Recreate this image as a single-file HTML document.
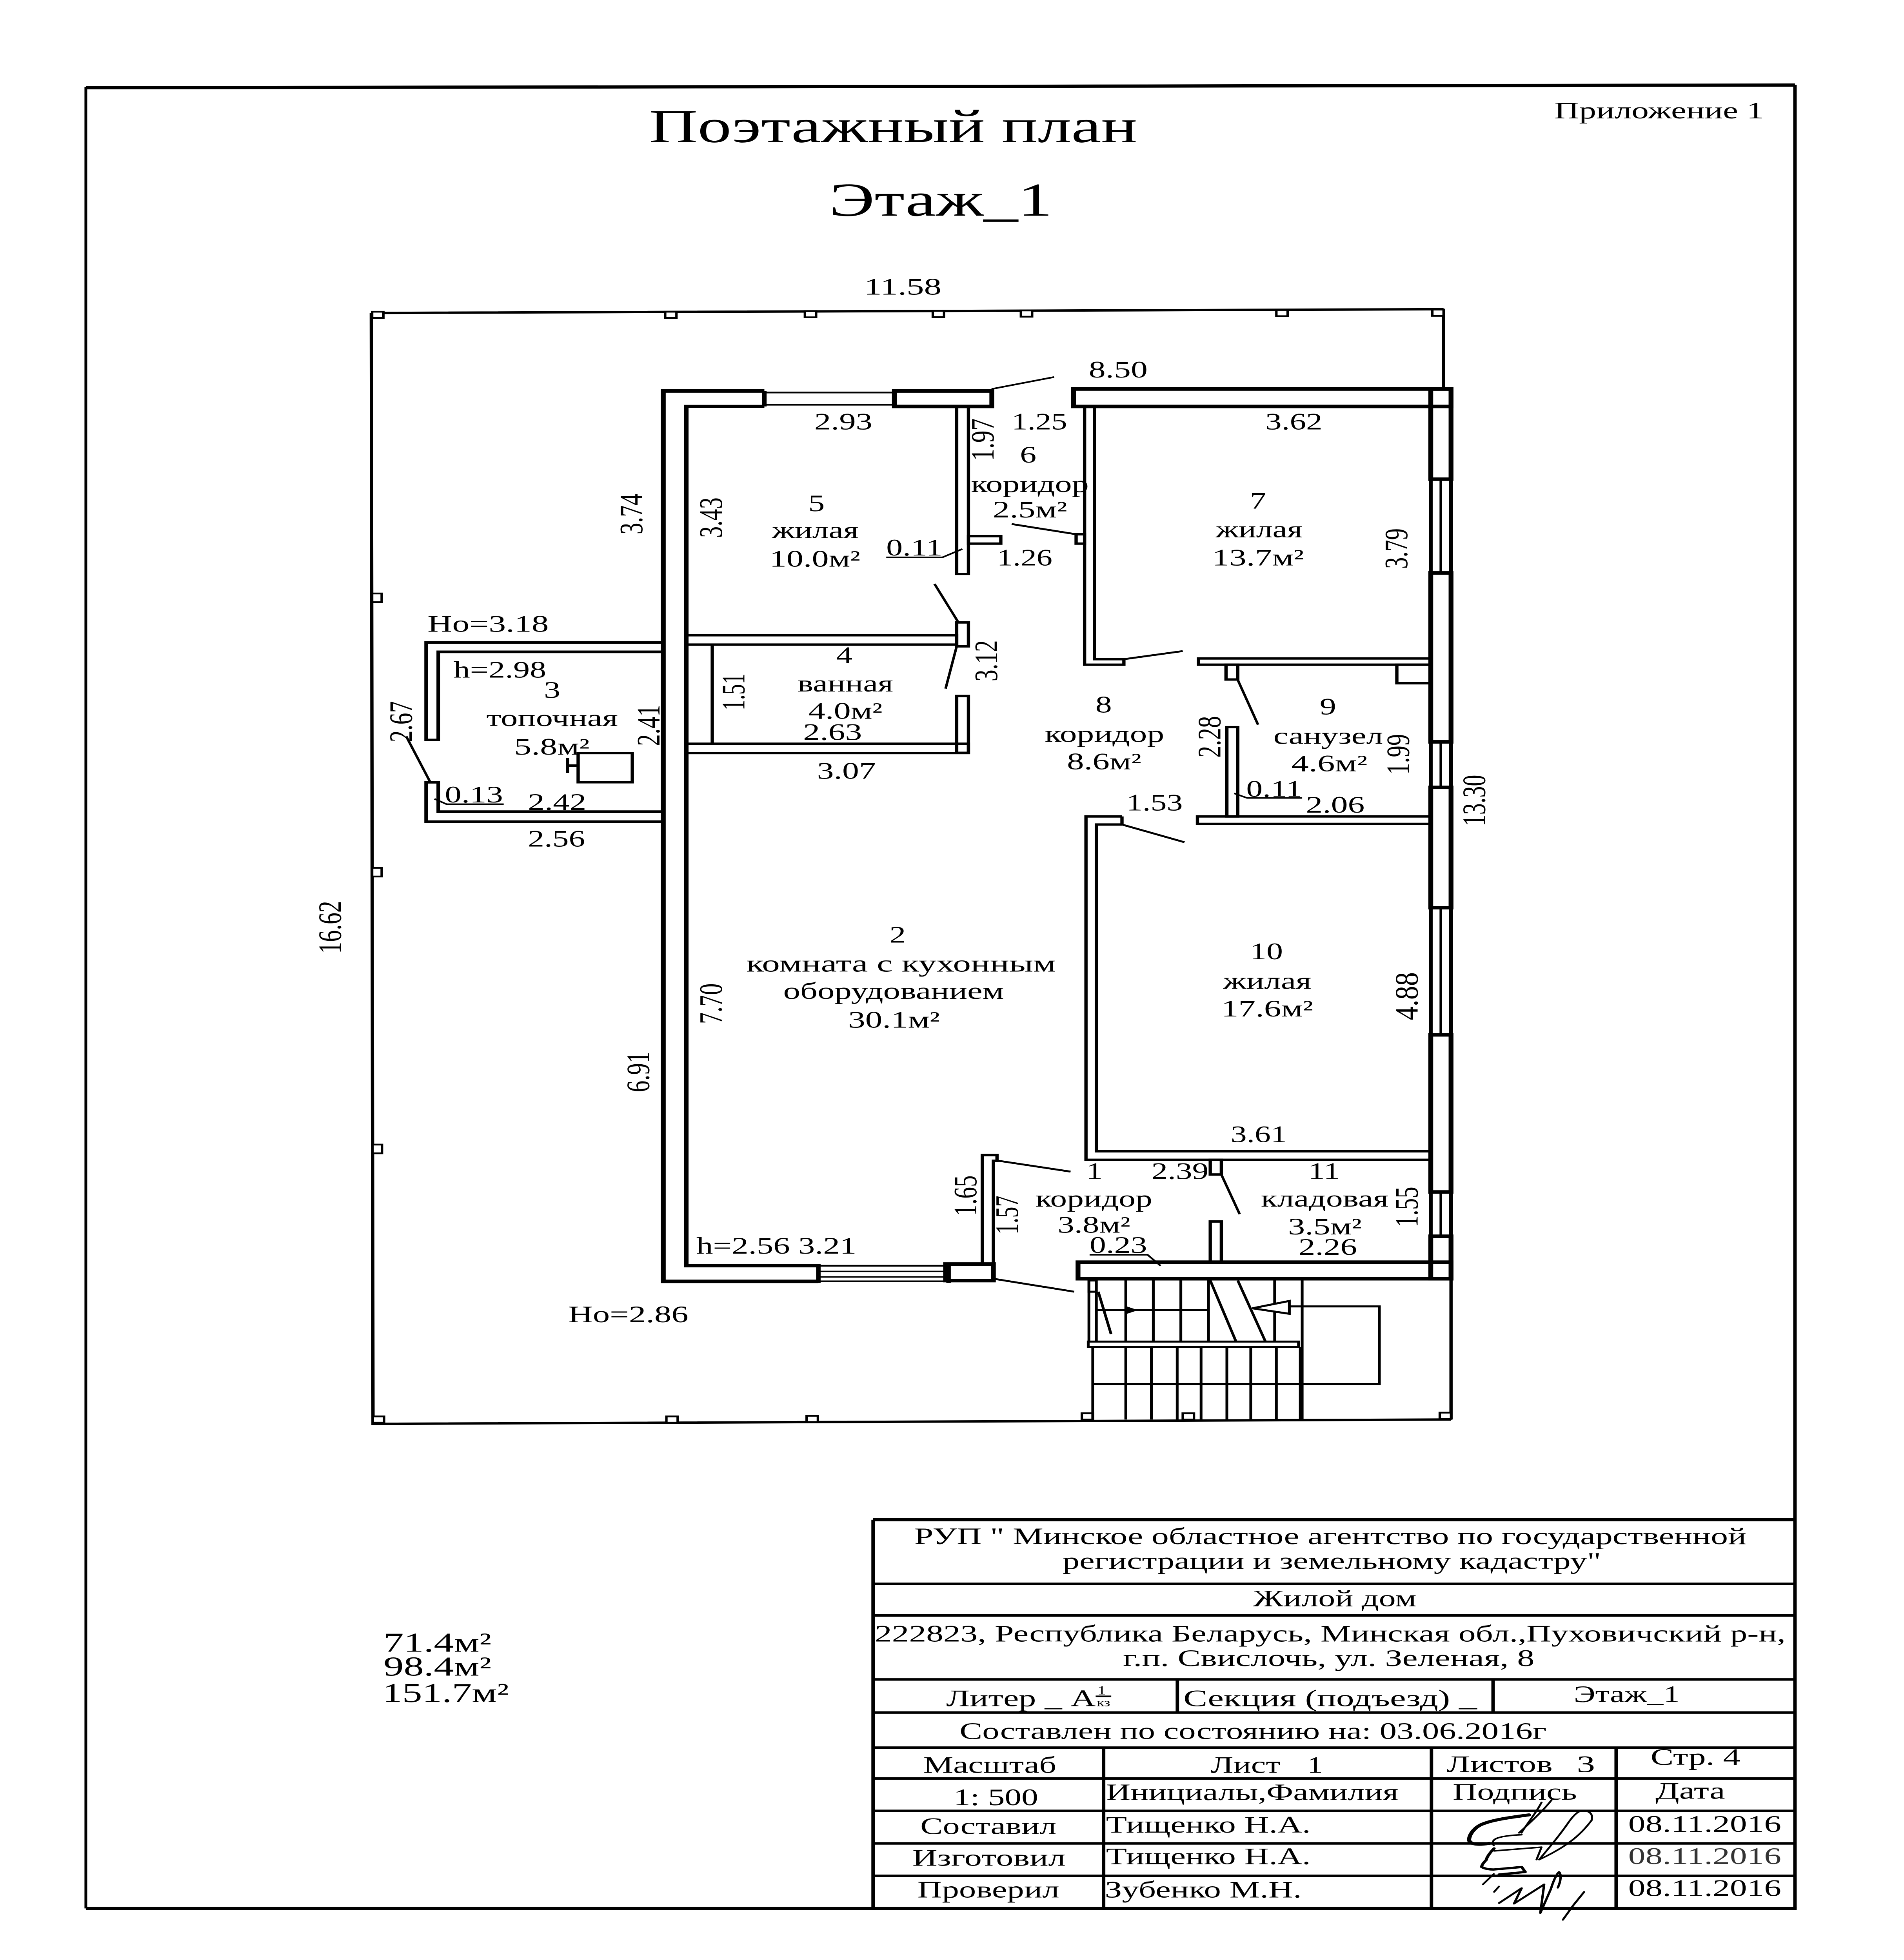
<!DOCTYPE html>
<html><head><meta charset="utf-8"><style>
html,body{margin:0;padding:0;background:#fff;width:100%;height:100%;overflow:hidden;}
svg{display:block;width:100vw;height:100vh;}
.t{font-family:"Liberation Serif","DejaVu Serif",serif;font-size:19px;fill:#000;}
.h{font-family:"Liberation Serif","DejaVu Serif",serif;font-size:38px;fill:#000;}
.s{font-family:"Liberation Serif","DejaVu Serif",serif;font-size:22px;fill:#000;}
</style></head><body><svg xmlns="http://www.w3.org/2000/svg" viewBox="0 0 1100 1572" preserveAspectRatio="none">
<rect width="1100" height="1572" fill="#fff"/>

<!-- page border -->
<g stroke="#000" fill="none">
<line x1="49.6" y1="70.4" x2="1037" y2="68.2" stroke-width="2.6"/>
<line x1="49.6" y1="69.8" x2="49.6" y2="1530.6" stroke-width="1.6"/>
<line x1="1037" y1="68" x2="1037" y2="1530.6" stroke-width="2"/>
<line x1="49.6" y1="1530.6" x2="1038" y2="1530.6" stroke-width="2.4"/>
</g>

<!-- titles -->
<text class="h" x="375" y="114" textLength="282" lengthAdjust="spacingAndGlyphs">Поэтажный план</text>
<text class="h" x="479" y="173" textLength="129" lengthAdjust="spacingAndGlyphs">Этаж_1</text>
<text class="t" x="898" y="95" textLength="121" lengthAdjust="spacingAndGlyphs">Приложение 1</text>

<!-- dimension box -->
<g stroke="#000" fill="none" stroke-width="1.9">
<path d="M215,251 L834,248 M214.5,251 L215.5,1142 L838.3,1138.5 M834,248 V312 M838.3,1025.6 V1138.5"/>
</g>
<g stroke="#000" fill="#fff" stroke-width="1.4">
<rect x="215" y="250" width="6.5" height="5"/>
<rect x="384.3" y="250" width="6.5" height="5"/>
<rect x="465" y="249.5" width="6.5" height="5"/>
<rect x="538.9" y="249.3" width="6.5" height="5"/>
<rect x="589.8" y="249" width="6.5" height="5"/>
<rect x="737.4" y="248.6" width="6.5" height="5"/>
<rect x="827.5" y="248.3" width="6.5" height="5"/>
<rect x="215" y="476" width="5.5" height="7"/>
<rect x="215" y="696" width="5.5" height="7"/>
<rect x="215.2" y="918" width="5.5" height="7"/>
<rect x="215.4" y="1136" width="6.5" height="5"/>
<rect x="385" y="1136" width="6.5" height="5"/>
<rect x="466" y="1135.5" width="6.5" height="5"/>
<rect x="625" y="1133.5" width="6.5" height="5"/>
<rect x="683.3" y="1133.5" width="6.5" height="5"/>
<rect x="831.8" y="1133" width="6.5" height="5"/>
</g>

<!-- left block walls -->
<g stroke="#000" fill="none">
<path d="M441.6,313.6 H383.2 V1027.7 H472.8" stroke-width="2.8"/>
<path d="M441.6,326 H396.5 V1015.2 H472.8" stroke-width="2.6"/>
<path d="M441.6,314.8 H516.7 M441.6,324.6 H516.7" stroke-width="1.4"/>
<path d="M441.6,313.6 V326 M516.7,313.6 V326" stroke-width="2.6"/>
<rect x="516.7" y="313.6" width="56.3" height="12.4" stroke-width="2.8"/>
<path d="M472.8,1015.2 H548 M472.8,1027.7 H548" stroke-width="1.4"/>
<path d="M472.8,1019.7 H548 M472.8,1024.2 H548" stroke-width="1.1"/>
<path d="M472.8,1013.8 V1029 M548,1013.8 V1029" stroke-width="2.6"/>
<rect x="546.3" y="1013.8" width="27.6" height="13.3" stroke-width="2.8"/>
</g>

<!-- right block walls -->
<g stroke="#000" fill="none">
<path d="M620.2,326 V312 H838.3 V1025.6 H622.8 V1012.3" stroke-width="2.2"/>
<path d="M620.2,326 H626.6 M632.3,326 H826.6 V1012.3 H622.8" stroke-width="2.2"/>
<rect x="620.2" y="312" width="218.1" height="14" stroke-width="2.8"/>
<rect x="826.6" y="312" width="11.7" height="72.3" stroke-width="2.8"/>
<rect x="826.6" y="459.5" width="11.7" height="135.5" stroke-width="2.8"/>
<rect x="826.6" y="631.5" width="11.7" height="96.5" stroke-width="2.8"/>
<rect x="826.6" y="830" width="11.7" height="126" stroke-width="2.8"/>
<rect x="826.6" y="991.5" width="11.7" height="34.1" stroke-width="2.8"/>
<rect x="622.8" y="1012.3" width="215.5" height="13.3" stroke-width="2.8"/>
<path d="M832.4,384.3 V459.5 M832.4,595 V631.5 M832.4,728 V830 M832.4,956 V991.5" stroke-width="1.5"/>
</g>

<!-- interior partitions -->
<g stroke="#000" fill="none" stroke-width="1.9">
<path d="M626.6,326 V533.1 H649.3 V528.7 H632.3 V326"/>
<path d="M648.2,654.8 H627.4 V930.2 H826.6 M648.2,661.3 H633.4 V923.4 H826.6 M648.2,654.8 V661.3"/>
<rect x="692.4" y="528.1" width="134.2" height="5"/>
<rect x="691.8" y="654.8" width="134.8" height="6"/>
<rect x="708.8" y="583.2" width="6.3" height="71.6"/>
<rect x="708.3" y="533.1" width="6.8" height="11.9"/>
<rect x="807" y="533.1" width="19.6" height="14.9"/>
<rect x="552.7" y="326" width="6.8" height="134.3"/>
<rect x="559.5" y="430" width="18.7" height="6"/>
<rect x="396.5" y="509.5" width="156.2" height="7.5"/>
<rect x="552.7" y="499.2" width="6.8" height="19.2"/>
<rect x="552.7" y="558.2" width="6.8" height="45.6"/>
<rect x="396.5" y="596.5" width="163" height="7.5"/>
<path d="M411.5,517 V596.5"/>
<rect x="621.7" y="428.5" width="4.9" height="7.5"/>
<path d="M576,926.4 H567.5 V1013.8 H573.9 V931 H576 Z"/>
<rect x="699.2" y="930.2" width="6.4" height="11.8"/>
<rect x="699.2" y="979.7" width="6.4" height="32.6"/>
<!-- annex room 3 -->
<path d="M382.6,515.4 H246.2 V593.5 H253.2 V522.8 H382.6" stroke-width="2.1"/>
<path d="M382.6,659 H246.2 V627.4 H253.2 V651 H382.6" stroke-width="2.1"/>
<rect x="334" y="604" width="31.3" height="23.4"/>
<path d="M327.9,608 V620 M327.9,614 H334"/>
</g>

<!-- door leaves and leaders -->
<g stroke="#000" fill="none" stroke-width="1.5">
<line x1="584.5" y1="420.3" x2="621.7" y2="428.5"/>
<line x1="539.9" y1="468.3" x2="553.7" y2="499.2"/>
<line x1="552.7" y1="518.4" x2="546.3" y2="552.3"/>
<line x1="649.3" y1="528.7" x2="683.3" y2="522.2"/>
<line x1="715" y1="545" x2="726.8" y2="581.2"/>
<line x1="648.2" y1="661.3" x2="684.3" y2="675.5"/>
<line x1="576" y1="930.8" x2="618.5" y2="939.7"/>
<line x1="574" y1="1025.6" x2="620.6" y2="1036"/>
<line x1="705.6" y1="942" x2="716.2" y2="973.8"/>
<line x1="234.7" y1="590.6" x2="248.6" y2="627.4"/>
<line x1="572.9" y1="312" x2="609" y2="302.4" stroke-width="1.3"/>
<path d="M512,447 H544.5 L556,440.3" stroke-width="1.2"/>
<path d="M251,640.7 L258,645 H291" stroke-width="1.2"/>
<path d="M713,636.3 L720.5,640 H752.3" stroke-width="1.2"/>
<path d="M629.5,1006.4 H663 L670.5,1015.2" stroke-width="1.2"/>
</g>

<!-- staircase -->
<g stroke="#000" fill="none" stroke-width="1.6">
<rect x="629.1" y="1027" width="4.3" height="9"/>
<path d="M629.1,1027 V1076 M633.4,1036 V1076"/>
<path d="M650.4,1026 V1076 M666.3,1026 V1076 M682.2,1026 V1076 M698.2,1026 V1076 M736.4,1026 V1076 M752.3,1026 V1138.5"/>
<path d="M633.4,1050.8 H698.2"/>
<path d="M699.2,1027 L714.1,1076 M715.1,1027 L731.1,1076"/>
<path d="M634.5,1036 L641.9,1070"/>
<polygon points="723.6,1049.3 744.9,1043.4 744.9,1053.7" fill="#fff"/>
<path d="M744.9,1047.8 H796.9 V1110 H752.3"/>
<rect x="628.7" y="1076" width="121.5" height="4.4"/>
<path d="M631.3,1080.4 V1138.5 M650.4,1080.4 V1138.5 M665.2,1080.4 V1138.5 M680.1,1080.4 V1138.5 M693.9,1080.4 V1138.5 M708.8,1080.4 V1138.5 M722.6,1080.4 V1138.5 M737.4,1080.4 V1138.5 M751.2,1080.4 V1138.5"/>
<path d="M631.3,1110 H752.3"/>
</g>
<polygon points="657.5,1050.8 650.5,1047.6 650.5,1054" fill="#000"/>

<!-- plan labels -->
<g class="t">
<text x="499.3" y="236.2" textLength="44.6" lengthAdjust="spacingAndGlyphs">11.58</text>
<text x="629" y="302.7" textLength="34" lengthAdjust="spacingAndGlyphs">8.50</text>
<text x="470.5" y="344.5" textLength="33.5" lengthAdjust="spacingAndGlyphs">2.93</text>
<text x="584.5" y="344.5" textLength="32" lengthAdjust="spacingAndGlyphs">1.25</text>
<text x="731" y="344.5" textLength="33" lengthAdjust="spacingAndGlyphs">3.62</text>
<text x="594" y="371" text-anchor="middle">6</text>
<text x="561" y="394.6" textLength="68" lengthAdjust="spacingAndGlyphs">коридор</text>
<text x="573.5" y="415" textLength="43" lengthAdjust="spacingAndGlyphs">2.5м²</text>
<text x="471.7" y="410" text-anchor="middle">5</text>
<text x="446" y="431.5" textLength="50" lengthAdjust="spacingAndGlyphs">жилая</text>
<text x="444.6" y="454.4" textLength="52.4" lengthAdjust="spacingAndGlyphs">10.0м²</text>
<text x="512" y="445.5" textLength="32.5" lengthAdjust="spacingAndGlyphs">0.11</text>
<text x="576" y="453.6" textLength="32" lengthAdjust="spacingAndGlyphs">1.26</text>
<text x="726.8" y="407.9" text-anchor="middle">7</text>
<text x="702.4" y="430.9" textLength="50" lengthAdjust="spacingAndGlyphs">жилая</text>
<text x="700.3" y="453.6" textLength="53" lengthAdjust="spacingAndGlyphs">13.7м²</text>
<text x="247" y="506.6" textLength="70" lengthAdjust="spacingAndGlyphs">Но=3.18</text>
<text x="262" y="543.5" textLength="53.6" lengthAdjust="spacingAndGlyphs">h=2.98</text>
<text x="319" y="559.6" text-anchor="middle">3</text>
<text x="281" y="582.3" textLength="76" lengthAdjust="spacingAndGlyphs">топочная</text>
<text x="297" y="605.3" textLength="43.6" lengthAdjust="spacingAndGlyphs">5.8м²</text>
<text x="257" y="643.6" textLength="33.6" lengthAdjust="spacingAndGlyphs">0.13</text>
<text x="305" y="649.5" textLength="33.7" lengthAdjust="spacingAndGlyphs">2.42</text>
<text x="305" y="679" textLength="33" lengthAdjust="spacingAndGlyphs">2.56</text>
<text x="487.8" y="531.7" text-anchor="middle">4</text>
<text x="460.8" y="554.6" textLength="55.2" lengthAdjust="spacingAndGlyphs">ванная</text>
<text x="467" y="576.4" textLength="42.8" lengthAdjust="spacingAndGlyphs">4.0м²</text>
<text x="464" y="593.5" textLength="34" lengthAdjust="spacingAndGlyphs">2.63</text>
<text x="472" y="624.5" textLength="34" lengthAdjust="spacingAndGlyphs">3.07</text>
<text x="637.6" y="571.4" text-anchor="middle">8</text>
<text x="603.6" y="595" textLength="69" lengthAdjust="spacingAndGlyphs">коридор</text>
<text x="616.4" y="617" textLength="43" lengthAdjust="spacingAndGlyphs">8.6м²</text>
<text x="767.2" y="573" text-anchor="middle">9</text>
<text x="735.7" y="596.5" textLength="63.3" lengthAdjust="spacingAndGlyphs">санузел</text>
<text x="746" y="618.6" textLength="44" lengthAdjust="spacingAndGlyphs">4.6м²</text>
<text x="720" y="639" textLength="32.3" lengthAdjust="spacingAndGlyphs">0.11</text>
<text x="754.4" y="651.8" textLength="34" lengthAdjust="spacingAndGlyphs">2.06</text>
<text x="650.8" y="650" textLength="32.5" lengthAdjust="spacingAndGlyphs">1.53</text>
<text x="518.6" y="756" text-anchor="middle">2</text>
<text x="431.2" y="779.2" textLength="178.8" lengthAdjust="spacingAndGlyphs">комната с кухонным</text>
<text x="452.5" y="801.1" textLength="127.5" lengthAdjust="spacingAndGlyphs">оборудованием</text>
<text x="490" y="824.2" textLength="53" lengthAdjust="spacingAndGlyphs">30.1м²</text>
<text x="731.7" y="769.4" text-anchor="middle">10</text>
<text x="706.6" y="793.1" textLength="51" lengthAdjust="spacingAndGlyphs">жилая</text>
<text x="705.6" y="815.3" textLength="53" lengthAdjust="spacingAndGlyphs">17.6м²</text>
<text x="711" y="916" textLength="32.4" lengthAdjust="spacingAndGlyphs">3.61</text>
<text x="632.3" y="945.6" text-anchor="middle">1</text>
<text x="665.2" y="945.6" textLength="33" lengthAdjust="spacingAndGlyphs">2.39</text>
<text x="765" y="945.6" text-anchor="middle">11</text>
<text x="598.3" y="967.8" textLength="67.4" lengthAdjust="spacingAndGlyphs">коридор</text>
<text x="728.5" y="967.8" textLength="73.7" lengthAdjust="spacingAndGlyphs">кладовая</text>
<text x="611" y="988.6" textLength="42" lengthAdjust="spacingAndGlyphs">3.8м²</text>
<text x="744.2" y="990" textLength="42.5" lengthAdjust="spacingAndGlyphs">3.5м²</text>
<text x="629.5" y="1004.9" textLength="33.2" lengthAdjust="spacingAndGlyphs">0.23</text>
<text x="750.2" y="1006.4" textLength="33.8" lengthAdjust="spacingAndGlyphs">2.26</text>
<text x="402.3" y="1005.5" textLength="92.5" lengthAdjust="spacingAndGlyphs">h=2.56 3.21</text>
<text x="328.3" y="1060.5" textLength="69.4" lengthAdjust="spacingAndGlyphs">Но=2.86</text>

<!-- rotated dimension labels -->
<text transform="translate(371,412.3) rotate(-90)" text-anchor="middle" textLength="32.5" lengthAdjust="spacingAndGlyphs">3.74</text>
<text transform="translate(417,415.2) rotate(-90)" text-anchor="middle" textLength="32.4" lengthAdjust="spacingAndGlyphs">3.43</text>
<text transform="translate(430,555) rotate(-90)" text-anchor="middle" textLength="29.5" lengthAdjust="spacingAndGlyphs">1.51</text>
<text transform="translate(381,581.8) rotate(-90)" text-anchor="middle" textLength="33" lengthAdjust="spacingAndGlyphs">2.41</text>
<text transform="translate(238,578.8) rotate(-90)" text-anchor="middle" textLength="33" lengthAdjust="spacingAndGlyphs">2.67</text>
<text transform="translate(576,530) rotate(-90)" text-anchor="middle" textLength="33" lengthAdjust="spacingAndGlyphs">3.12</text>
<text transform="translate(574,352.6) rotate(-90)" text-anchor="middle" textLength="34" lengthAdjust="spacingAndGlyphs">1.97</text>
<text transform="translate(813,440) rotate(-90)" text-anchor="middle" textLength="32.5" lengthAdjust="spacingAndGlyphs">3.79</text>
<text transform="translate(705,591) rotate(-90)" text-anchor="middle" textLength="33.5" lengthAdjust="spacingAndGlyphs">2.28</text>
<text transform="translate(814,605) rotate(-90)" text-anchor="middle" textLength="32.5" lengthAdjust="spacingAndGlyphs">1.99</text>
<text transform="translate(858,642) rotate(-90)" text-anchor="middle" textLength="41.2" lengthAdjust="spacingAndGlyphs">13.30</text>
<text transform="translate(197,743.7) rotate(-90)" text-anchor="middle" textLength="42.3" lengthAdjust="spacingAndGlyphs">16.62</text>
<text transform="translate(417,805) rotate(-90)" text-anchor="middle" textLength="32.6" lengthAdjust="spacingAndGlyphs">7.70</text>
<text transform="translate(375,859.7) rotate(-90)" text-anchor="middle" textLength="32.6" lengthAdjust="spacingAndGlyphs">6.91</text>
<text transform="translate(819,799) rotate(-90)" text-anchor="middle" textLength="38.5" lengthAdjust="spacingAndGlyphs">4.88</text>
<text transform="translate(564,959) rotate(-90)" text-anchor="middle" textLength="32.6" lengthAdjust="spacingAndGlyphs">1.65</text>
<text transform="translate(588,974.5) rotate(-90)" text-anchor="middle" textLength="31" lengthAdjust="spacingAndGlyphs">1.57</text>
<text transform="translate(819,968) rotate(-90)" text-anchor="middle" textLength="32.4" lengthAdjust="spacingAndGlyphs">1.55</text>
</g>

<!-- totals -->
<g class="s">
<text x="221.6" y="1324.7" textLength="62.3" lengthAdjust="spacingAndGlyphs">71.4м²</text>
<text x="221.6" y="1343.9" textLength="62.3" lengthAdjust="spacingAndGlyphs">98.4м²</text>
<text x="220.9" y="1365.2" textLength="73.1" lengthAdjust="spacingAndGlyphs">151.7м²</text>
</g>

<!-- title block -->
<g stroke="#000" fill="none" stroke-width="2">
<line x1="504.4" y1="1218.9" x2="1037" y2="1218.9" stroke-width="2.6"/>
<line x1="504.4" y1="1218.9" x2="504.4" y2="1530.6"/>
<path d="M504.4,1270.3 H1037 M504.4,1295.7 H1037 M504.4,1347 H1037 M504.4,1373.5 H1037 M504.4,1401.7 H1037 M504.4,1426.4 H1037 M504.4,1452.4 H1037 M504.4,1478.5 H1037 M504.4,1504.5 H1037"/>
<path d="M680.2,1347 V1373.5 M862.6,1347 V1373.5 M637.6,1401.7 V1530.6 M827,1401.7 V1530.6 M933.7,1401.7 V1530.6"/>
</g>
<g class="t">
<text x="528.2" y="1238.5" textLength="480.7" lengthAdjust="spacingAndGlyphs">РУП " Минское областное агентство по государственной</text>
<text x="613.8" y="1258.2" textLength="311.2" lengthAdjust="spacingAndGlyphs">регистрации и земельному кадастру"</text>
<text x="724" y="1288.2" textLength="94.3" lengthAdjust="spacingAndGlyphs">Жилой дом</text>
<text x="505.4" y="1316.5" textLength="526.2" lengthAdjust="spacingAndGlyphs">222823, Республика Беларусь, Минская обл.,Пуховичский р-н,</text>
<text x="648.8" y="1336.2" textLength="237.7" lengthAdjust="spacingAndGlyphs">г.п. Свислочь, ул. Зеленая, 8</text>
<text x="546.7" y="1368.5" textLength="86.3" lengthAdjust="spacingAndGlyphs">Литер _ А</text>
<text x="683.7" y="1368.5" textLength="169.6" lengthAdjust="spacingAndGlyphs">Секция (подъезд)  _</text>
<text x="909.2" y="1365.1" textLength="61.2" lengthAdjust="spacingAndGlyphs">Этаж_1</text>
<text x="554.4" y="1394.7" textLength="339.1" lengthAdjust="spacingAndGlyphs">Составлен по состоянию на: 03.06.2016г</text>
<text x="533.4" y="1421.8" textLength="76.9" lengthAdjust="spacingAndGlyphs">Масштаб</text>
<text x="699.5" y="1421.8" textLength="40.2" lengthAdjust="spacingAndGlyphs">Лист</text>
<text x="755.4" y="1421.8" textLength="8.8" lengthAdjust="spacingAndGlyphs">1</text>
<text x="835.8" y="1421.3" textLength="61.2" lengthAdjust="spacingAndGlyphs">Листов</text>
<text x="911" y="1421.3" textLength="10.5" lengthAdjust="spacingAndGlyphs">3</text>
<text x="953.6" y="1415.5" textLength="51.8" lengthAdjust="spacingAndGlyphs">Стр. 4</text>
<text x="550.9" y="1447.8" textLength="48.9" lengthAdjust="spacingAndGlyphs">1: 500</text>
<text x="639" y="1443.8" textLength="168.9" lengthAdjust="spacingAndGlyphs">Инициалы,Фамилия</text>
<text x="839.3" y="1443.4" textLength="71.7" lengthAdjust="spacingAndGlyphs">Подпись</text>
<text x="956.4" y="1442.6" textLength="40.2" lengthAdjust="spacingAndGlyphs">Дата</text>
<text x="531.7" y="1470.9" textLength="78.6" lengthAdjust="spacingAndGlyphs">Составил</text>
<text x="639" y="1469.8" textLength="118.2" lengthAdjust="spacingAndGlyphs">Тищенко Н.А.</text>
<text x="940.7" y="1469.2" textLength="88.4" lengthAdjust="spacingAndGlyphs">08.11.2016</text>
<text x="527.1" y="1496.4" textLength="88.5" lengthAdjust="spacingAndGlyphs">Изготовил</text>
<text x="639" y="1495.2" textLength="118.2" lengthAdjust="spacingAndGlyphs">Тищенко Н.А.</text>
<text x="940.7" y="1495" textLength="88.4" lengthAdjust="spacingAndGlyphs" style="fill:#333">08.11.2016</text>
<text x="530" y="1521.8" textLength="82" lengthAdjust="spacingAndGlyphs">Проверил</text>
<text x="638.3" y="1521.8" textLength="113.7" lengthAdjust="spacingAndGlyphs">Зубенко М.Н.</text>
<text x="940.7" y="1520.6" textLength="88.4" lengthAdjust="spacingAndGlyphs">08.11.2016</text>
</g>
<!-- litera fraction -->
<text x="636.5" y="1359" text-anchor="middle" style="font-family:'Liberation Serif',serif;font-size:10px">1</text>
<line x1="633" y1="1360.5" x2="642" y2="1360.5" stroke="#000" stroke-width="1.2"/>
<text x="637.5" y="1368.5" text-anchor="middle" style="font-family:'Liberation Serif',serif;font-size:9px">кз</text>

<!-- signatures -->
<g stroke="#000" fill="none" stroke-linecap="round" stroke-linejoin="round">
<path d="M896.4,1443.6 C893,1450 884,1462 877.6,1470 M890.6,1445.6 C887,1455 882,1463 879,1470" stroke-width="1.2"/>
<path d="M883.4,1455.6 C876,1457 864,1459 857.4,1462.5 C852,1465 849,1471 848.7,1475.5 C849,1479 853,1480 860.3,1478.5" stroke-width="2.4"/>
<path d="M879.1,1471.5 C872,1472 867,1473 864.6,1474.5 C862,1476 862,1479 863,1480" stroke-width="1.2"/>
<path d="M916.6,1452.6 C913,1451 910,1454 906,1462 C901,1472 895,1482 889.2,1491.5 M916.6,1452.6 C920,1454 920,1457 919.5,1460 C914,1470 907,1480 889.2,1491.5" stroke-width="1.2"/>
<path d="M863.2,1482.5 C860,1487 858.5,1491 858.8,1491.5 C857,1494 856,1496 856,1497.4 C858,1499 861,1499.5 863.2,1499.4 L879.1,1497.4 L881.2,1501.4 L866.1,1503.4" stroke-width="1.8"/>
<path d="M863.2,1484.5 L890.6,1481.5 L887.7,1491.5" stroke-width="1.2"/>
<path d="M856.7,1511.4 L863,1503 M863.2,1517.4 L866,1513" stroke-width="1.2"/>
<path d="M866.1,1526.3 L879.1,1514.4 L874.7,1526.8 L892.1,1511.4 L889.9,1534.3 L896,1515 C898,1506 900,1502 900.7,1501.4 C902,1503 902,1508 900,1514" stroke-width="1.4"/>
<path d="M915.2,1517.4 L909,1528 L902.9,1539.8" stroke-width="1.3"/>
</g>
</svg></body></html>
